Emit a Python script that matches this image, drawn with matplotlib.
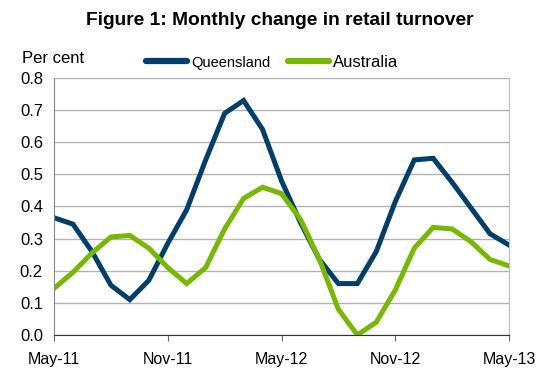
import matplotlib
matplotlib.use("Agg")
import matplotlib.pyplot as plt

plt.rcParams['font.family'] = ['Liberation Sans', 'DejaVu Sans']

# monthly change, per cent, May-11 .. May-13
months = ['May-11', 'Jun-11', 'Jul-11', 'Aug-11', 'Sep-11', 'Oct-11', 'Nov-11',
          'Dec-11', 'Jan-12', 'Feb-12', 'Mar-12', 'Apr-12', 'May-12', 'Jun-12',
          'Jul-12', 'Aug-12', 'Sep-12', 'Oct-12', 'Nov-12', 'Dec-12', 'Jan-13',
          'Feb-13', 'Mar-13', 'Apr-13', 'May-13']
queensland = [0.365, 0.345, 0.26, 0.155, 0.11, 0.17, 0.285, 0.39, 0.545, 0.69,
              0.73, 0.64, 0.48, 0.35, 0.235, 0.16, 0.16, 0.26, 0.415, 0.545,
              0.55, 0.475, 0.395, 0.315, 0.28]
australia = [0.145, 0.195, 0.255, 0.305, 0.31, 0.27, 0.21, 0.16, 0.21, 0.33,
             0.425, 0.46, 0.44, 0.36, 0.235, 0.08, 0.0, 0.04, 0.14, 0.27,
             0.335, 0.33, 0.29, 0.235, 0.215]
tick_labels = ['May-11', 'Nov-11', 'May-12', 'Nov-12', 'May-13']
y_ticks = [0.0, 0.1, 0.2, 0.3, 0.4, 0.5, 0.6, 0.7, 0.8]

fig = plt.figure(figsize=(5.59, 3.75), dpi=100)
ax = fig.add_axes([0.0966, 0.1067, 0.814, 0.6853])

x = list(range(len(months)))
ax.plot(x, queensland, color='#003f6b', lw=3.6, label='Queensland', solid_joinstyle='miter')
ax.plot(x, australia, color='#78b800', lw=3.6, label='Australia', solid_joinstyle='miter')

ax.set_xlim(0, len(months) - 1)
ax.set_ylim(0, 0.8)
ax.set_yticks(y_ticks)
ax.set_yticklabels([f'{v:.1f}' for v in y_ticks])
tick_pos = [months.index(t) for t in tick_labels]
ax.set_xticks(tick_pos)
ax.set_xticklabels(tick_labels)
ax.tick_params(axis='x', direction='out', length=4, color='#666666', labelsize=11.5, pad=8)
ax.tick_params(axis='y', length=0, labelsize=12, pad=8)

ax.grid(axis='y', color='#b3b3b3', lw=1)
ax.set_axisbelow(True)
ax.spines['top'].set_visible(False)
ax.spines['right'].set_color('#bbbbbb')
ax.spines['left'].set_color('#888888')
ax.spines['bottom'].set_color('#333333')

fig.text(0.5, 0.945, 'Figure 1: Monthly change in retail turnover',
         ha='center', va='center', fontsize=13.8, fontweight='bold')
fig.text(0.04, 0.845, 'Per cent', ha='left', va='center', fontsize=12)

leg = fig.legend(loc='center', bbox_to_anchor=(0.487, 0.833), ncol=2, frameon=False,
                 handlelength=2.5, columnspacing=1.0, handletextpad=0.25, fontsize=12)
leg.get_texts()[0].set_fontsize(10.5)
for h in leg.get_lines():
    h.set_linewidth(4.5)
    h.set_solid_capstyle('round')

fig.savefig('out.png', dpi=100)
